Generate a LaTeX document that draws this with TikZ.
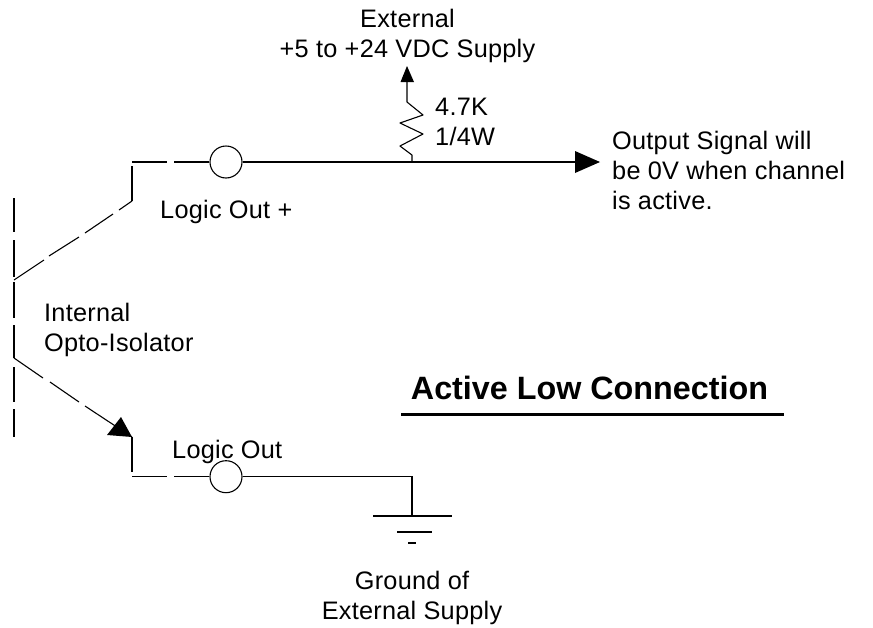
\documentclass[tikz,border=0pt]{standalone}
\usepackage{fontspec}
\setmainfont[LetterSpace=1]{Liberation Sans}
\newfontfamily\titlefont[LetterSpace=0]{Liberation Sans Bold}
\tikzset{
  wire/.style={line width=1.1pt,line cap=butt,line join=miter},
  heavy/.style={line width=1.6pt},
  term/.style={circle,draw,line width=1.1pt,minimum size=32pt,inner sep=0pt,fill=white},
  tiplabel/.style={inner sep=0pt,font=\fontsize{25.3pt}{30pt}\selectfont,align=left},
  centerlabel/.style={inner sep=0pt,font=\fontsize{25.3pt}{30pt}\selectfont,align=center},
  head/.style={fill=black,draw=none}
}
\begin{document}
\begin{tikzpicture}[x=1pt,y=-1pt]
\useasboundingbox (0,0) rectangle (873,627);
% terminals
\node[term] (t1) at (226,162) {};
\node[term] (t2) at (226,476.7) {};
% coordinates
\coordinate (a1) at (132,162);
\coordinate (a1e) at (167,162);
\coordinate (a2) at (174,162);
\coordinate (a3) at (132,166);
\coordinate (a4) at (132,201);
\coordinate (b1) at (132,476.7);
\coordinate (b1e) at (167,476.7);
\coordinate (b2) at (174,476.7);
\coordinate (b3) at (132,472);
\coordinate (b4) at (132,437);
\coordinate (j) at (412,162);
\coordinate (g) at (412,476.7);
\coordinate (g1) at (412,516);
\coordinate (sigtip) at (600,162);
% collector/emitter
\draw[wire] (a1) -- (a1e);
\draw[wire] (a2) -- (t1.west);
\draw[wire] (a3) -- (a4);
\draw[wire] (a4) -- (119,210);
\draw[wire] (113,214) -- (85,233);
\draw[wire] (79,237) -- (49,256);
\draw[wire] (44,260) -- (14,280);
\draw[wire] (14,358) -- (43,378);
\draw[wire] (50,382) -- (79,402);
\draw[wire] (85,406) -- (b4);
\draw[wire] (b4) -- (b3);
\draw[wire] (b1) -- (b1e);
\draw[wire] (b2) -- (t2.west);
\fill[head] (b4) -- (107,435) -- (121,417) -- cycle;
% transistor body
\foreach \ya/\yb in {198/232,240/277,282/318,325/358,367/402,409/437}
  \draw[wire] (14,\ya) -- (14,\yb);
% output
\draw[wire] (t1.east) -- (578,162);
\fill[head] (sigtip) -- (575,151) -- (575,173) -- cycle;
% resistor
\draw[wire,line join=round] (j) -- (412,155) -- (400,146) -- (423,134) -- (400,123) -- (423,115) -- (407,102) -- (407,82);
\fill[head] (407,66) -- (400.5,82) -- (414,82) -- cycle;
% ground
\draw[wire] (t2.east) -- (g) -- (g1);
\draw[heavy] (373,516) -- (452,516);
\draw[heavy] (397,532) -- (432,532);
\draw[heavy] (408,543) -- (416,543);
% title rule
\draw[line width=3pt] (401,414) -- (784,414);
% labels
\node[centerlabel,anchor=center] (ext) at (407.5,36) {External\\+5 to +24 VDC Supply};
\node[tiplabel,anchor=west] (r) at (435,122) {4.7K\\1/4W};
\node[tiplabel,anchor=west] (sig) at (612,170) {Output Signal will\\be 0V when channel\\is active.};
\node[tiplabel,anchor=base west] (lo1) at (160,218) {Logic Out +};
\node[tiplabel,anchor=west] (iso) at (44,330) {Internal\\Opto-Isolator};
\node[inner sep=0pt,anchor=base,font=\fontsize{32.3pt}{36pt}\selectfont\titlefont] (title) at (589.5,399) {Active Low Connection};
\node[tiplabel,anchor=base west] (lo2) at (172,458.5) {Logic Out};
\node[centerlabel,anchor=center] (gnd) at (412,597.5) {Ground of\\External Supply};
\end{tikzpicture}
\end{document}
